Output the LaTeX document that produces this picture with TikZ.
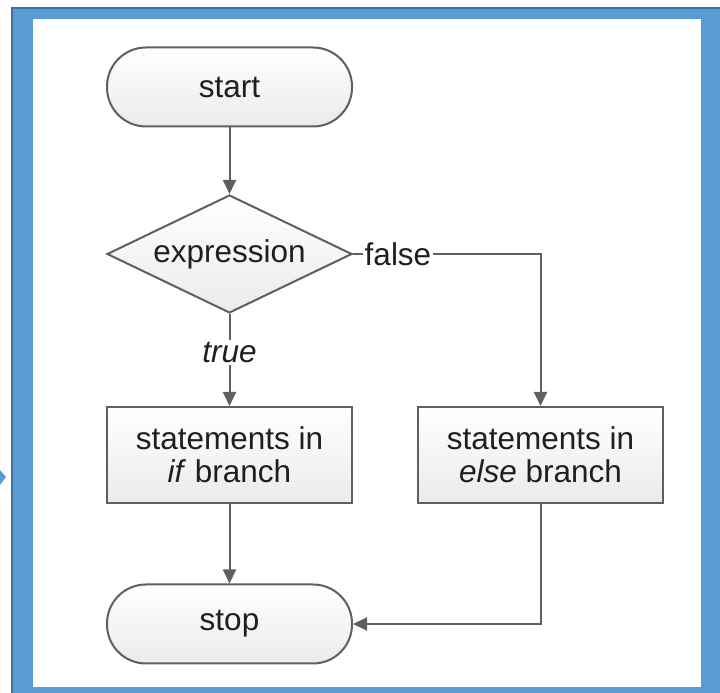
\documentclass[tikz,border=0pt]{standalone}
\usepackage{fontspec}
\setmainfont{Liberation Sans}
\usetikzlibrary{shapes.geometric,arrows.meta}
\definecolor{frameblue}{HTML}{5B9BD5}
\definecolor{frameedge}{HTML}{41719C}
\definecolor{linegray}{HTML}{5F5F5F}

\begin{document}
\begin{tikzpicture}[x=1pt,y=1pt,
  every node/.style={font=\fontsize{31.5}{33}\selectfont, text=black!88},
  block/.style={draw=linegray, line width=2pt, top color=white, bottom color=black!8,
    minimum width=245pt, minimum height=96pt, align=center},
  terminal/.style={block, rounded corners=39pt, minimum height=79pt},
  decision/.style={block, diamond, aspect=2.08, inner sep=1pt, minimum height=118pt},
  flow/.style={draw=linegray, line width=2pt, -{Triangle[length=14pt,width=13pt]}},
  tag/.style={fill=white, inner sep=2pt}]
\useasboundingbox (0,0) rectangle (720,693);
% window frame
\fill[frameblue] (11,0) rectangle (720,686);
\draw[frameedge, line width=2pt] (12,0) -- (12,685) -- (720,685);
\fill[white] (33,6) rectangle (701,674);
\fill[frameblue] (0,223) -- (6,216) -- (0,208) -- cycle;
% flowchart
\node[terminal] (start) at (229.5,606) {start};
\node[decision] (test) at (229.5,439) {expression};
\node[block] (ifpart) at (229.5,238) {statements in\\\textit{if} branch};
\node[block] (elsepart) at (540.5,238) {statements in\\\textit{else} branch};
\node[terminal] (stop) at (229.5,69) {stop};
\draw[flow] (start) -- (test);
\draw[flow] (test) -- node[tag, pos=0.42] {\textit{true}} (ifpart);
\draw[flow] (test.east) -| node[tag, pos=0.12] {false} (elsepart);
\draw[flow] (ifpart) -- (stop);
\draw[flow] (elsepart) |- (stop);
\end{tikzpicture}
\end{document}
